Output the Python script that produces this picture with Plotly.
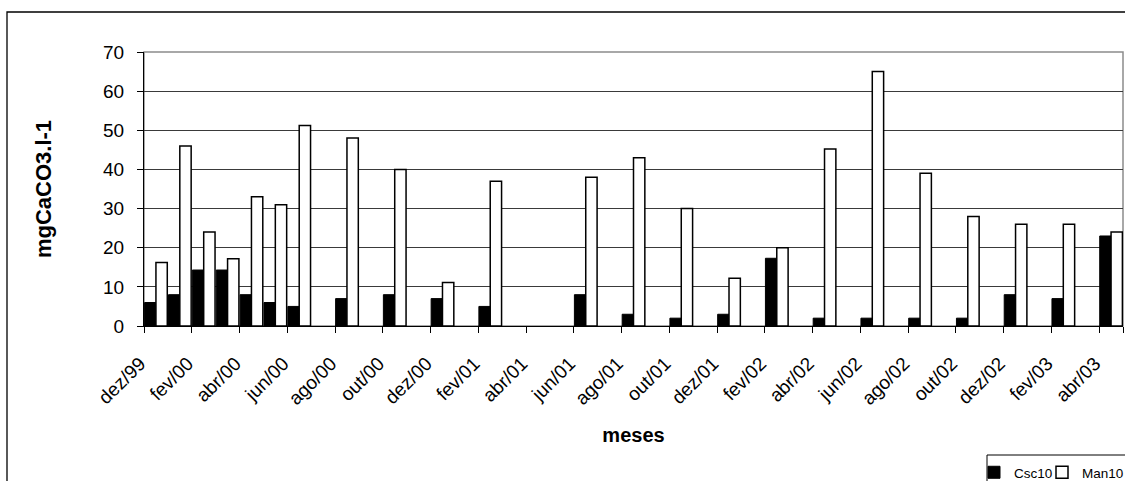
import plotly.graph_objects as go

# ---- data ----
months = [
    "dez/99", "jan/00", "fev/00", "mar/00", "abr/00", "mai/00", "jun/00", "jul/00",
    "ago/00", "set/00", "out/00", "nov/00", "dez/00", "jan/01", "fev/01", "mar/01",
    "abr/01", "mai/01", "jun/01", "jul/01", "ago/01", "set/01", "out/01", "nov/01",
    "dez/01", "jan/02", "fev/02", "mar/02", "abr/02", "mai/02", "jun/02", "jul/02",
    "ago/02", "set/02", "out/02", "nov/02", "dez/02", "jan/03", "fev/03", "mar/03",
    "abr/03",
]
csc10 = [6, 8, 14.3, 14.3, 8, 6, 5, None, 7, None, 8, None, 7, None, 5, None,
         None, None, 8, None, 3, None, 2, None, 3, None, 17.3, None, 2, None,
         2, None, 2, None, 2, None, 8, None, 7, None, 23]
man10 = [16.2, 46, 24, 17.2, 33, 31, 51.2, None, 48, None, 40, None, 11.1, None, 37, None,
         None, None, 38, None, 43, None, 30, None, 12.2, None, 20, None, 45.2, None,
         65, None, 39, None, 28, None, 26, None, 26, None, 24]
tick_labels = months[::2]
y_ticks = [0, 10, 20, 30, 40, 50, 60, 70]

# ---- layout geometry (pixels) ----
W, H = 1125, 481
L, R, T, B = 144, 2, 52, 155
PW, PH = W - L - R, H - T - B

def px_x(p):
    return (p - L) / PW

def px_y(p):
    return (H - B - p) / PH

FONT = "Liberation Sans, Arial, sans-serif"

fig = go.Figure()
fig.add_trace(go.Bar(
    x=months, y=csc10, name="Csc10", legend="legend",
    marker=dict(color="#000000", line=dict(color="#000000", width=1)),
))
fig.add_trace(go.Bar(
    x=months, y=man10, name="Man10", legend="legend2",
    marker=dict(color="#ffffff", line=dict(color="#000000", width=1.5)),
))

legend_common = dict(
    orientation="h", xref="container", yref="container",
    y=1 - 457 / H, xanchor="left", yanchor="top",
    borderwidth=0, bgcolor="rgba(0,0,0,0)",
    font=dict(size=13.5, family=FONT), itemwidth=30,
)

fig.update_layout(
    width=W, height=H,
    margin=dict(l=L, r=R, t=T, b=B, autoexpand=False),
    paper_bgcolor="white", plot_bgcolor="white",
    barmode="group", bargap=0.05, bargroupgap=0,
    font=dict(family=FONT, color="black", size=19),
    showlegend=True,
    legend=dict(x=974 / W, **legend_common),
    legend2=dict(x=1042 / W, **legend_common),
    xaxis=dict(
        type="category", categoryorder="array", categoryarray=months,
        range=[-0.5, len(months) - 0.5],
        tickmode="array", tickvals=tick_labels, ticktext=tick_labels,
        tickson="boundaries",
        ticks="outside", ticklen=6, tickcolor="black", tickwidth=1,
        tickangle=-45, ticklabelshift=-16, ticklabelstandoff=18,
        tickfont=dict(size=19),
        showline=True, linecolor="black", linewidth=1,
        showgrid=False, zeroline=False,
        title=dict(text="<b>meses</b>", font=dict(size=20), standoff=20),
    ),
    yaxis=dict(
        range=[0, 70], tickmode="array", tickvals=y_ticks,
        ticks="outside", ticklen=6, tickcolor="black", tickwidth=1,
        ticklabelstandoff=9,
        tickfont=dict(size=19),
        showline=True, linecolor="black", linewidth=1,
        showgrid=True, gridcolor="#3a3a3a", gridwidth=1,
        zeroline=False,
        title=dict(text="<b>mgCaCO3.l-1</b>", font=dict(size=22), standoff=45),
    ),
    shapes=[
        # plot area frame (grey)
        dict(type="rect", xref="paper", yref="paper", x0=0, y0=0, x1=1, y1=1,
             line=dict(color="#8c8c8c", width=1.5), layer="below"),
        # outer chart frame (extends beyond picture on right and bottom)
        dict(type="rect", xref="paper", yref="paper",
             x0=px_x(7), y0=px_y(500), x1=px_x(1140), y1=px_y(12),
             line=dict(color="black", width=1.3), fillcolor="rgba(0,0,0,0)"),
        # legend frame (extends beyond picture on right and bottom)
        dict(type="rect", xref="paper", yref="paper",
             x0=px_x(987), y0=px_y(500), x1=px_x(1140), y1=px_y(455),
             line=dict(color="black", width=1), fillcolor="rgba(0,0,0,0)"),
    ],
)

fig.write_html(
    "out.html",
    config={"displayModeBar": False},
    post_script="document.body.style.margin='0px';",
)
